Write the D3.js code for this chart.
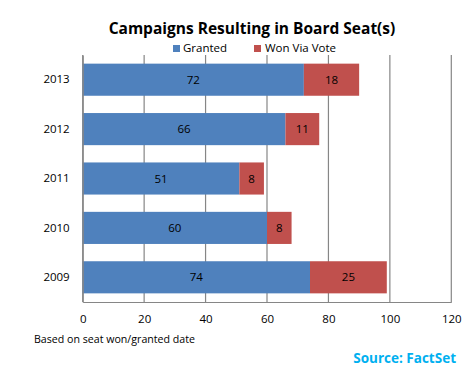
<!DOCTYPE html>
<html><head><meta charset="utf-8">
<script src="https://cdn.jsdelivr.net/npm/d3@7"></script>
<style>body{margin:0;background:#fff}svg{display:block}text{font-family:"Open Sans","Noto Sans",sans-serif}</style>
</head><body>
<script>
const years = ["2013","2012","2011","2010","2009"];
const granted = [72,66,51,60,74];
const wonViaVote = [18,11,8,8,25];
const xTicks = [0,20,40,60,80,100,120];
const seriesNames = ["Granted","Won Via Vote"];
const colors = ["#4F81BD","#C0504D"];

const W=468,H=382;
const svg=d3.select("body").append("svg").attr("width",W).attr("height",H);
const m={l:82.7,r:451.3,t:55,b:302};
const x=d3.scaleLinear().domain([0,120]).range([m.l,m.r]);
const y=d3.scaleBand().domain(years).range([m.t,m.b]).paddingInner(0.35).paddingOuter(0.175);

svg.append("g").selectAll("line").data(xTicks).join("line")
 .attr("x1",d=>x(d)).attr("x2",d=>x(d)).attr("y1",m.t).attr("y2",m.b)
 .attr("stroke","#868686").attr("stroke-width",1.2);

const rows=years.map((yr,i)=>({yr,g:granted[i],w:wonViaVote[i]}));
const gb=svg.append("g");
gb.selectAll("rect.g").data(rows).join("rect").attr("class","g")
 .attr("x",x(0)).attr("y",d=>y(d.yr)).attr("width",d=>x(d.g)-x(0)).attr("height",y.bandwidth()).attr("fill",colors[0]);
gb.selectAll("rect.w").data(rows).join("rect").attr("class","w")
 .attr("x",d=>x(d.g)).attr("y",d=>y(d.yr)).attr("width",d=>x(d.g+d.w)-x(d.g)).attr("height",y.bandwidth()).attr("fill",colors[1]);
gb.selectAll("text.g").data(rows).join("text").attr("class","g")
 .attr("x",d=>(x(0)+x(d.g))/2).attr("y",d=>y(d.yr)+y.bandwidth()/2+4).attr("text-anchor","middle")
 .attr("font-size",11.5).attr("fill","#000").text(d=>d.g);
gb.selectAll("text.w").data(rows).join("text").attr("class","w")
 .attr("x",d=>(x(d.g)+x(d.g+d.w))/2).attr("y",d=>y(d.yr)+y.bandwidth()/2+4).attr("text-anchor","middle")
 .attr("font-size",11.5).attr("fill","#000").text(d=>d.w);

const xa=svg.append("g").attr("transform",`translate(0,${m.b})`).call(d3.axisBottom(x).tickValues(xTicks).tickSize(0).tickPadding(13));
xa.select(".domain").attr("stroke","#868686").attr("stroke-width",1.2);
xa.selectAll("text").attr("font-size",11.5).attr("fill","#000").style("font-family",'"Open Sans","Noto Sans",sans-serif');
const ya=svg.append("g").attr("transform",`translate(${m.l},0)`).call(d3.axisLeft(y).tickSize(0).tickPadding(13));
ya.select(".domain").attr("stroke","#868686").attr("stroke-width",1.2);
ya.selectAll("text").attr("font-size",11.5).attr("fill","#000").style("font-family",'"Open Sans","Noto Sans",sans-serif');

svg.append("text").attr("x",252).attr("y",34).attr("text-anchor","middle")
 .attr("font-size",15.5).attr("font-weight","bold").attr("fill","#000").text("Campaigns Resulting in Board Seat(s)");

const lg=[{x:173,tx:183},{x:254,tx:265}];
seriesNames.forEach((n,i)=>{
 svg.append("rect").attr("x",lg[i].x).attr("y",45).attr("width",7).attr("height",7).attr("fill",colors[i]);
 svg.append("text").attr("x",lg[i].tx).attr("y",52).attr("font-size",11.5).attr("fill","#000").text(n);
});

svg.append("text").attr("x",34).attr("y",343).attr("font-size",10.5).attr("fill","#000").attr("textLength",161).attr("lengthAdjust","spacingAndGlyphs").text("Based on seat won/granted date");
svg.append("text").attr("x",456).attr("y",363).attr("text-anchor","end").attr("font-size",13.5).attr("font-weight","bold").attr("fill","#00B0F0").text("Source: FactSet");
</script>
</body></html>
